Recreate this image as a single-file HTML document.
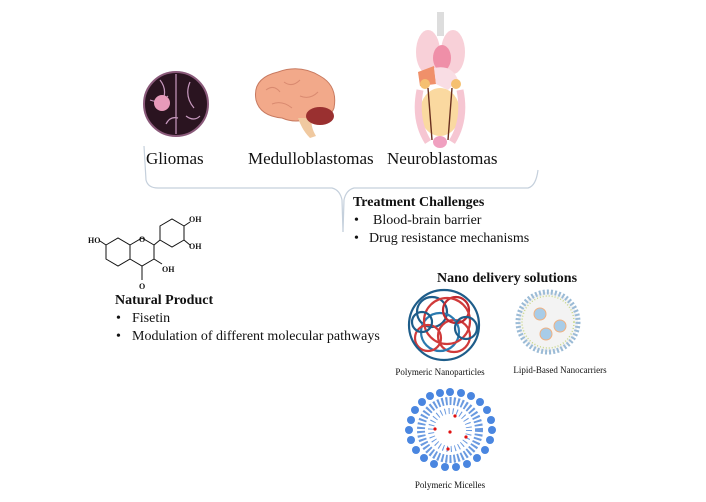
<!DOCTYPE html>
<html><head><style>
body{margin:0;background:#fff;width:706px;height:497px;overflow:hidden;font-family:"Liberation Serif",serif;}
</style></head><body>
<svg width="706" height="497" viewBox="0 0 706 497" xmlns="http://www.w3.org/2000/svg" font-family="Liberation Serif, serif">
<!-- brace -->
<path d="M144,146 L146,180 Q148,188 158,188 L332,188 Q340,190 342,200 L343,232" fill="none" stroke="#c5d0dc" stroke-width="1.2"/>
<path d="M343,232 L344,200 Q346,190 354,188 L528,188 Q536,186 538,170" fill="none" stroke="#c5d0dc" stroke-width="1.2"/>
<!-- glioma -->
<circle cx="176" cy="104" r="32" fill="#2a1420" stroke="#8a5a7a" stroke-width="2"/>
<path d="M160,80 q8,10 2,22 M176,74 l0,60 M190,82 q-6,14 4,26 M150,100 q10,4 18,-4 M186,116 q8,6 14,0 M166,124 q4,-8 12,-6" stroke="#c99ac0" stroke-width="1.2" fill="none"/>
<circle cx="162" cy="103" r="8" fill="#e79aba"/>
<!-- brain -->
<path d="M256,100 Q252,78 278,72 Q300,64 320,76 Q338,86 334,108 Q330,120 310,118 Q296,124 282,118 Q260,116 256,100Z" fill="#f2a98a" stroke="#c87a60"/>
<path d="M298,118 Q302,130 310,138 L316,136 Q310,126 312,118Z" fill="#f0c9a0"/>
<ellipse cx="320" cy="116" rx="14" ry="9" fill="#9a3030"/>
<path d="M266,90 q8,-6 14,2 M284,82 q8,6 16,-2 M300,96 q10,4 18,-4 M272,104 q10,-4 20,4" stroke="#d98a70" fill="none"/>
<!-- body -->
<rect x="437" y="12" width="7" height="24" fill="#ddd"/>
<ellipse cx="428" cy="52" rx="12" ry="22" fill="#f8d0d8"/>
<ellipse cx="453" cy="52" rx="12" ry="22" fill="#f8d0d8"/>
<ellipse cx="442" cy="58" rx="9" ry="13" fill="#ef8fa8"/>
<path d="M418,72 L434,66 L436,84 L420,86Z" fill="#f0906a"/>
<path d="M434,68 Q452,64 458,80 L448,90 L436,84Z" fill="#f9dde4"/>
<ellipse cx="440" cy="112" rx="20" ry="24" fill="#fad9a0"/>
<path d="M420,90 Q414,120 428,142 M460,90 Q466,120 452,142" stroke="#f6c6d2" stroke-width="7" fill="none"/>
<circle cx="425" cy="84" r="5" fill="#f5c070"/><circle cx="456" cy="84" r="5" fill="#f5c070"/>
<path d="M428,88 L432,140 M452,88 L448,140" stroke="#6a3020" stroke-width="1.4"/>
<ellipse cx="440" cy="142" rx="7" ry="6" fill="#f0a0c0"/>
<g font-size="17" fill="#111">
<text x="146" y="164">Gliomas</text>
<text x="248" y="164">Medulloblastomas</text>
<text x="387" y="164">Neuroblastomas</text>
</g>
<g font-size="14" fill="#111">
<text x="353" y="206" font-weight="bold">Treatment Challenges</text>
<text x="354" y="224">•</text><text x="373" y="224">Blood-brain barrier</text>
<text x="354" y="242">•</text><text x="369" y="242">Drug resistance mechanisms</text>
<text x="115" y="304" font-weight="bold">Natural Product</text>
<text x="116" y="322">•</text><text x="132" y="322">Fisetin</text>
<text x="116" y="340">•</text><text x="132" y="340">Modulation of different molecular pathways</text>
<text x="437" y="282" font-weight="bold">Nano delivery solutions</text>
</g>
<!-- molecule -->
<g stroke="#111" stroke-width="1" fill="none">
<polygon points="106,245 118,238 130,245 130,259 118,266 106,259"/>
<polygon points="130,245 142,238 154,245 154,259 142,266 130,259"/>
<polygon points="160,226 172,219 184,226 184,240 172,247 160,240"/>
<line x1="154" y1="245" x2="160" y2="240"/>
<line x1="142" y1="266" x2="142" y2="280"/>
<line x1="184" y1="226" x2="190" y2="222"/><line x1="184" y1="240" x2="190" y2="245"/>
<line x1="154" y1="259" x2="162" y2="264"/><line x1="106" y1="245" x2="100" y2="241"/>
</g>
<g font-size="8" font-weight="bold" fill="#111">
<text x="189" y="222">OH</text><text x="189" y="249">OH</text><text x="162" y="272">OH</text>
<text x="139" y="289">O</text><text x="139" y="242">O</text><text x="88" y="243">HO</text>
</g>
<!-- polymeric NP -->
<circle cx="444" cy="325" r="36" fill="#fff"/>
<g fill="none" stroke-width="2.2">
<circle cx="432" cy="312" r="15" stroke="#1e5d8a"/><circle cx="454" cy="336" r="16" stroke="#d03a3a"/>
<circle cx="440" cy="332" r="19" stroke="#2a7ab0"/><circle cx="456" cy="310" r="13" stroke="#c02a30"/>
<circle cx="428" cy="338" r="13" stroke="#d03a3a"/><circle cx="444" cy="325" r="35" stroke="#1e5d8a"/>
<circle cx="447" cy="321" r="23" stroke="#d03a3a"/>
<circle cx="422" cy="322" r="10" stroke="#1e5d8a"/><circle cx="466" cy="328" r="11" stroke="#1e5d8a"/>
</g>
<!-- lipid -->
<circle cx="548" cy="322" r="30" fill="#f3f3f3" stroke="#9bbbd6" stroke-width="5" stroke-dasharray="2 2"/>
<circle cx="548" cy="322" r="26" fill="none" stroke="#c8d88a" stroke-width="1.5" stroke-dasharray="1 2"/>
<circle cx="540" cy="314" r="6" fill="#a8cce8" stroke="#f0b080"/><circle cx="560" cy="326" r="6" fill="#a8cce8" stroke="#f0b080"/><circle cx="546" cy="334" r="6" fill="#a8cce8" stroke="#f0b080"/>
<g font-size="9" fill="#111" text-anchor="middle">
<text x="440" y="375">Polymeric Nanoparticles</text>
<text x="560" y="373">Lipid-Based Nanocarriers</text>
<text x="450" y="488">Polymeric Micelles</text>
</g>
<!-- micelle -->
<g transform="translate(0,2)">
<g fill="#4a86e0">
<circle cx="450" cy="390" r="4"/><circle cx="461" cy="391" r="4"/><circle cx="471" cy="394" r="4"/><circle cx="480" cy="400" r="4"/><circle cx="487" cy="408" r="4"/><circle cx="491" cy="418" r="4"/><circle cx="492" cy="428" r="4"/><circle cx="490" cy="438" r="4"/><circle cx="485" cy="448" r="4"/><circle cx="477" cy="456" r="4"/><circle cx="467" cy="462" r="4"/><circle cx="456" cy="465" r="4"/><circle cx="445" cy="465" r="4"/><circle cx="434" cy="462" r="4"/><circle cx="424" cy="456" r="4"/><circle cx="416" cy="448" r="4"/><circle cx="411" cy="438" r="4"/><circle cx="409" cy="428" r="4"/><circle cx="411" cy="418" r="4"/><circle cx="415" cy="408" r="4"/><circle cx="422" cy="400" r="4"/><circle cx="430" cy="394" r="4"/><circle cx="440" cy="391" r="4"/>
</g>
<circle cx="450" cy="428" r="29" fill="none" stroke="#6a9ae0" stroke-width="8" stroke-dasharray="2 2"/>
<circle cx="450" cy="428" r="19" fill="none" stroke="#6a9ae0" stroke-width="6" stroke-dasharray="1 3"/>
<g fill="#e01010"><circle cx="455" cy="414" r="1.6"/><circle cx="435" cy="427" r="1.6"/><circle cx="450" cy="430" r="1.6"/><circle cx="466" cy="435" r="1.6"/><circle cx="448" cy="447" r="1.6"/></g>
</g>
</svg>
</body></html>
